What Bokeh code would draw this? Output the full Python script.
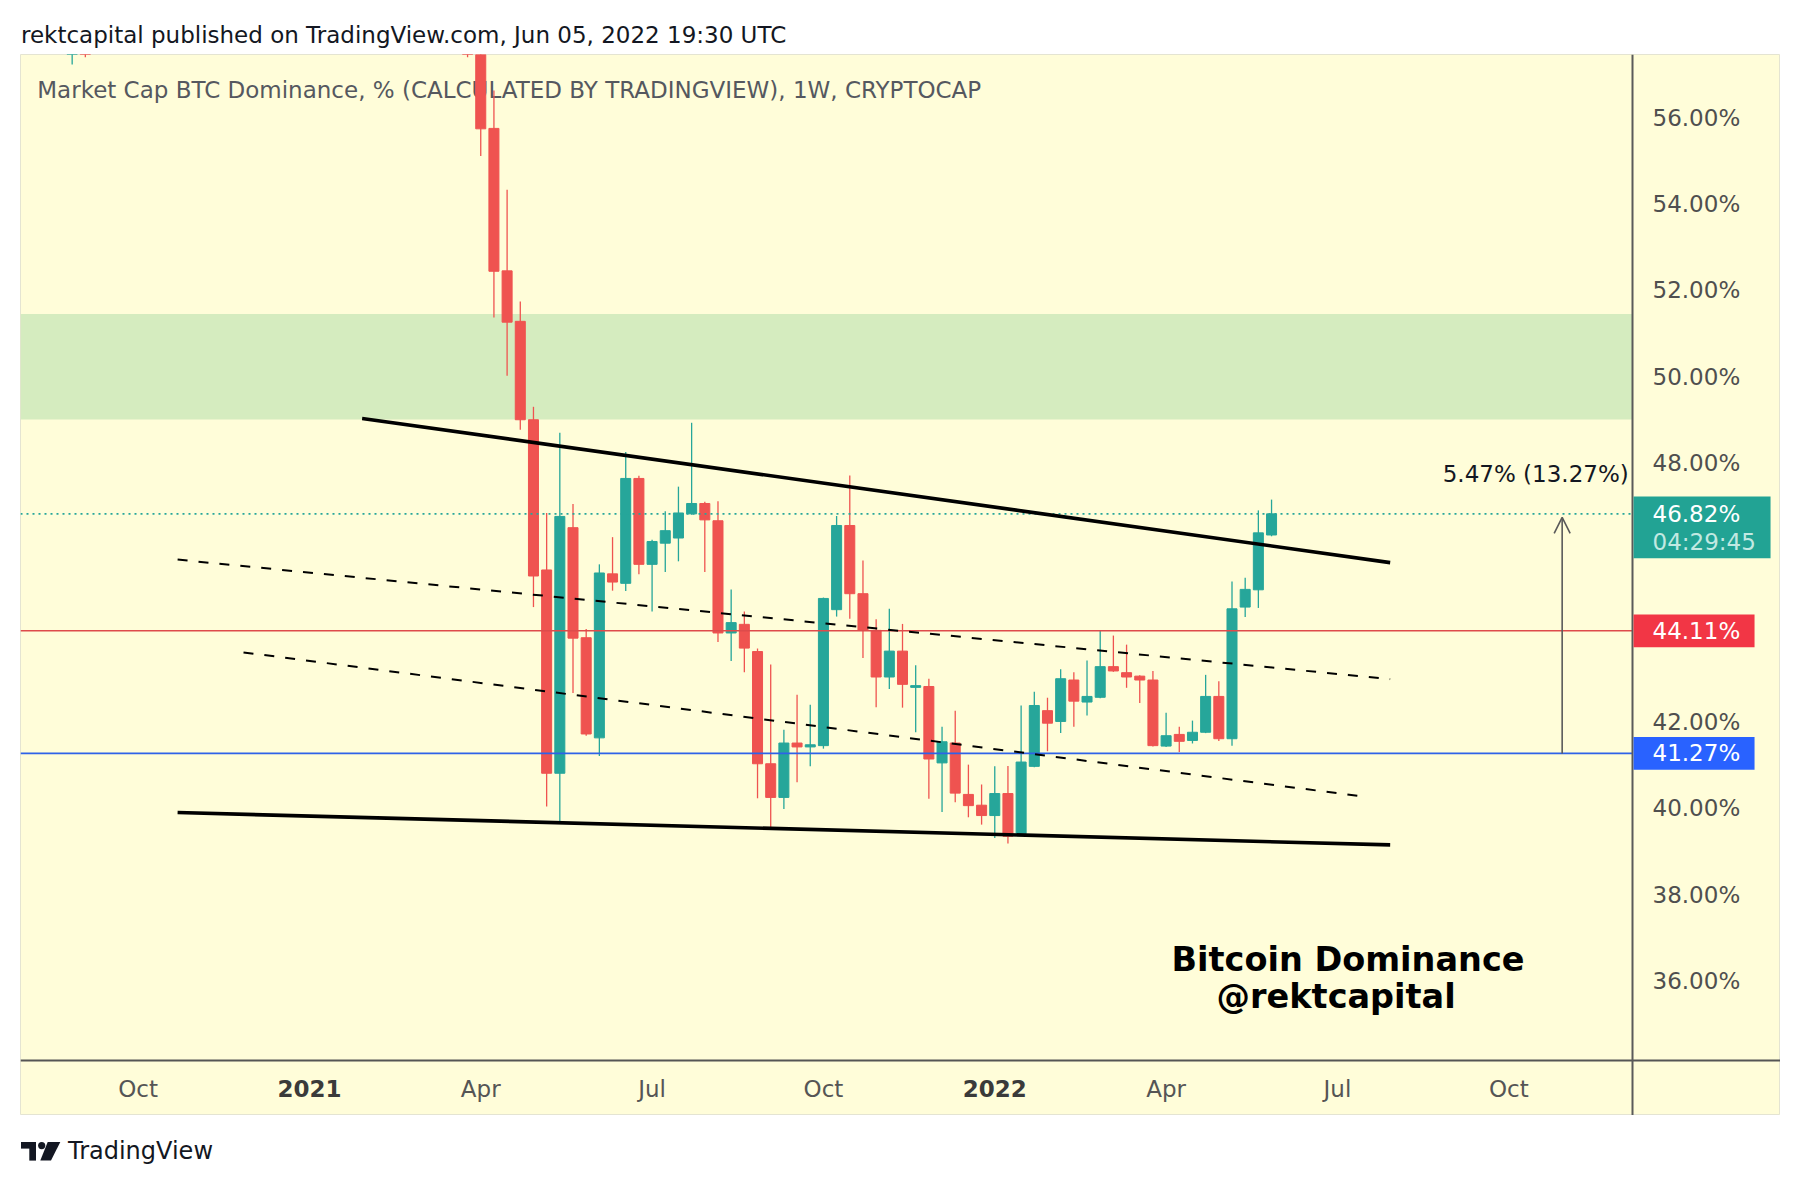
from datetime import datetime, timedelta
from bokeh.plotting import figure
from bokeh.models import FixedTicker, Range1d, Arrow, OpenHead, Div, LinearAxis, Spacer
from bokeh.layouts import column, row
from bokeh.core.properties import value
from bokeh.embed import file_html
from bokeh.resources import INLINE

# ---------------- data (weekly candles, BTC dominance %) ----------------
weeks = ["2020-08-31", "2020-09-07", "2021-03-29",
         "2021-04-05", "2021-04-12", "2021-04-19", "2021-04-26", "2021-05-03", "2021-05-10",
         "2021-05-17", "2021-05-24", "2021-05-31", "2021-06-07", "2021-06-14", "2021-06-21",
         "2021-06-28", "2021-07-05", "2021-07-12", "2021-07-19", "2021-07-26", "2021-08-02",
         "2021-08-09", "2021-08-16", "2021-08-23", "2021-08-30", "2021-09-06", "2021-09-13",
         "2021-09-20", "2021-09-27", "2021-10-04", "2021-10-11", "2021-10-18", "2021-10-25",
         "2021-11-01", "2021-11-08", "2021-11-15", "2021-11-22", "2021-11-29", "2021-12-06",
         "2021-12-13", "2021-12-20", "2021-12-27", "2022-01-03", "2022-01-10", "2022-01-17",
         "2022-01-24", "2022-01-31", "2022-02-07", "2022-02-14", "2022-02-21", "2022-02-28",
         "2022-03-07", "2022-03-14", "2022-03-21", "2022-03-28", "2022-04-04", "2022-04-11",
         "2022-04-18", "2022-04-25", "2022-05-02", "2022-05-09", "2022-05-16", "2022-05-23",
         "2022-05-30"]
opens = [57.90, 58.80, 59.60,
         58.30, 55.75, 52.45, 51.28, 49.00, 45.52, 40.81, 46.50, 43.95, 41.63, 45.43, 45.21,
         47.64, 45.65, 46.14, 46.26, 46.82, 47.06, 46.66, 44.06, 44.26, 43.63, 41.03, 40.25,
         41.51, 41.42, 41.45, 44.60, 46.55, 44.97, 44.12, 43.04, 43.64, 42.80, 42.82, 41.05,
         41.51, 40.32, 40.07, 39.83, 40.34, 39.41, 40.97, 42.26, 42.01, 42.97, 42.46, 42.57,
         43.28, 43.14, 43.06, 42.97, 41.44, 41.71, 41.57, 41.76, 42.59, 41.61, 44.66, 45.06,
         46.33]
highs = [59.20, 59.30, 60.20,
         58.60, 56.63, 54.33, 51.74, 49.30, 46.84, 48.70, 47.05, 44.15, 45.65, 46.28, 48.25,
         47.70, 46.22, 46.88, 47.45, 48.93, 47.10, 47.11, 45.07, 44.56, 43.70, 43.33, 41.82,
         42.63, 42.40, 44.88, 46.77, 47.71, 45.74, 44.38, 44.62, 44.27, 43.31, 43.00, 41.89,
         42.26, 41.01, 40.55, 40.97, 40.98, 42.38, 42.70, 42.56, 43.22, 43.15, 43.42, 44.12,
         44.00, 43.79, 43.08, 43.18, 42.21, 41.89, 42.03, 43.09, 42.94, 45.25, 45.34, 46.90,
         47.15]
lows = [57.23, 57.40, 57.40,
        55.11, 51.37, 50.02, 48.77, 44.66, 40.04, 39.68, 42.67, 41.68, 41.21, 45.04, 45.03,
        45.42, 44.56, 45.47, 45.72, 46.80, 45.47, 43.85, 43.41, 43.15, 40.23, 39.56, 39.98,
        40.60, 40.97, 41.38, 44.44, 44.39, 43.48, 42.34, 42.76, 42.33, 41.76, 40.22, 39.91,
        40.14, 39.79, 39.62, 39.31, 39.18, 39.38, 40.95, 41.32, 41.74, 41.89, 42.15, 42.55,
        43.16, 42.79, 42.44, 41.43, 41.42, 41.30, 41.50, 41.74, 41.56, 41.45, 44.43, 44.64,
        46.30]
closes = [58.80, 57.90, 58.30,
          55.74, 52.44, 51.26, 49.00, 45.38, 40.81, 46.76, 43.94, 41.72, 45.45, 45.24, 47.64,
          45.65, 46.18, 46.43, 46.84, 47.06, 46.68, 44.06, 44.30, 43.71, 41.03, 40.25, 41.51,
          41.42, 41.47, 44.86, 46.55, 44.97, 44.12, 43.04, 43.64, 42.87, 42.84, 41.14, 41.54,
          40.35, 40.06, 39.83, 40.34, 39.35, 41.07, 42.38, 41.97, 43.00, 42.48, 42.59, 43.28,
          43.18, 43.04, 42.97, 41.45, 41.68, 41.55, 41.76, 42.59, 41.61, 44.62, 45.07, 46.38,
          46.82]

# horizontal levels and zone
resistance_level = 44.11
support_level = 41.27
last_price = 46.82
countdown = "04:29:45"
zone_low, zone_high = 49.005, 51.45

# measured move
move_abs, move_pct = 5.47, 13.27

# trend lines (date, value) pairs
upper_line_dates = ["2021-02-01", "2022-08-01"]
upper_line_vals = [49.03, 45.69]
lower_line_dates = ["2020-10-26", "2022-08-01"]
lower_line_vals = [39.90, 39.15]
dash1_dates = ["2020-10-26", "2022-08-01"]
dash1_vals = [45.76, 42.99]
dash2_dates = ["2020-11-30", "2022-07-18"]
dash2_vals = [43.61, 40.27]

# axis ticks
price_ticks = [36, 38, 40, 42, 44, 46, 48, 50, 52, 54, 56]
month_tick_dates = ["2020-10-05", "2021-01-04", "2021-04-05", "2021-07-05", "2021-10-04",
                    "2022-01-03", "2022-04-04", "2022-07-04", "2022-10-03"]
month_tick_labels = ["Oct", "2021", "Apr", "Jul", "Oct", "2022", "Apr", "Jul", "Oct"]
year_labels = {"2021", "2022"}

# ---------------- helpers ----------------
EPOCH = datetime(1970, 1, 1)
BASE = datetime(2021, 1, 4)
WEEK_MS = 7 * 86400000.0
PX_PER_WEEK = 13.18
PXW = WEEK_MS / PX_PER_WEEK     # ms per screen pixel
PXY = 1 / 43.16                 # % per screen pixel


def ms_of(s):
    return (datetime.strptime(s, "%Y-%m-%d") - EPOCH).total_seconds() * 1000.0


def wk(k):
    return (BASE + timedelta(weeks=k) - EPOCH).total_seconds() * 1000.0


BG = "#FFFDD9"
TEAL = "#26A69A"
RED = "#EF5350"
FONT = "DejaVu Sans"
FS = "23px"

XL = wk(-21.92)                         # left edge of the chart card
XA = wk(100.39)                         # price-axis line
XR = wk(-21.92 + 1760 / PX_PER_WEEK)    # right edge of the card
YB, YT = 32.881, 57.462

p = figure(frame_width=1760, frame_height=1061,
           x_range=Range1d(XL, XR), y_range=Range1d(YB, YT),
           x_axis_location=None, y_axis_location=None,
           toolbar_location=None, output_backend="svg", title=None,
           min_border_left=0, min_border_top=0, min_border_bottom=0, min_border_right=0,
           background_fill_color=BG, border_fill_color=BG,
           outline_line_color="#E4E4D2")
p.grid.visible = False

ax = LinearAxis(fixed_location=XA)
ax.ticker = FixedTicker(ticks=price_ticks)
ax.major_label_overrides = {t: f"{t:.2f}%" for t in price_ticks}
ax.axis_line_color = "#5A5A5A"
ax.axis_line_width = 2
ax.major_tick_line_color = None
ax.minor_tick_line_color = None
ax.major_tick_out = 0
ax.major_tick_in = 0
ax.major_label_standoff = 20
ax.major_label_text_font = FONT
ax.major_label_text_font_size = FS
ax.major_label_text_color = "#4F4F4F"
p.add_layout(ax, "right")

# green zone
p.quad(left=[XL], right=[XA], bottom=[zone_low], top=[zone_high], fill_color="#D5ECBF", line_color=None)

# series title
p.text(x=[wk(-20.65)], y=[56.651],
       text=["Market Cap BTC Dominance, % (CALCULATED BY TRADINGVIEW), 1W, CRYPTOCAP"],
       text_font=value(FONT), text_font_size=FS, text_color="#55585F",
       text_baseline="middle", text_align="left")

# x-axis strip: separator and month labels
p.hspan(y=[34.165], line_color="#555555", line_width=2)
mx = [ms_of(d) for d in month_tick_dates]
month_only = [i for i, t in enumerate(month_tick_labels) if t not in year_labels]
year_only = [i for i, t in enumerate(month_tick_labels) if t in year_labels]
p.text(x=[mx[i] for i in month_only], y=[33.505] * len(month_only),
       text=[month_tick_labels[i] for i in month_only],
       text_font=value(FONT), text_font_size=FS, text_color="#555555",
       text_baseline="middle", text_align="center")
p.text(x=[mx[i] for i in year_only], y=[33.505] * len(year_only),
       text=[month_tick_labels[i] for i in year_only],
       text_font=value(FONT), text_font_size=FS, text_color="#3A3A3A",
       text_font_style="bold", text_baseline="middle", text_align="center")

# candles
cx = [ms_of(d) for d in weeks]
cols = [TEAL if c >= o else RED for o, c in zip(opens, closes)]
tops = [max(o, c) for o, c in zip(opens, closes)]
bots = [min(o, c) for o, c in zip(opens, closes)]
p.segment(x0=cx, y0=lows, x1=cx, y1=highs, line_color=cols, line_width=1.3)
p.vbar(x=cx, width=0.76 * WEEK_MS, top=tops, bottom=bots, fill_color=cols, line_color=cols, line_width=1)

# horizontal levels (end at the price axis)
p.segment(x0=[XL], x1=[XA], y0=[resistance_level], y1=[resistance_level], line_color="#DE4B4B", line_width=1.6)
p.segment(x0=[XL], x1=[XA], y0=[support_level], y1=[support_level], line_color="#2E62E8", line_width=1.8)
p.segment(x0=[XL], x1=[XA], y0=[last_price], y1=[last_price], line_color=TEAL, line_width=1.6, line_dash="2 4")

# trend lines
p.line(x=[ms_of(d) for d in upper_line_dates], y=upper_line_vals, line_color="black", line_width=3.6)
p.line(x=[ms_of(d) for d in lower_line_dates], y=lower_line_vals, line_color="black", line_width=3.6)
p.line(x=[ms_of(d) for d in dash1_dates], y=dash1_vals, line_color="black", line_width=2, line_dash="10 11")
p.line(x=[ms_of(d) for d in dash2_dates], y=dash2_vals, line_color="black", line_width=2, line_dash="10 11")

# measurement arrow and text
ax_x = wk(95.05)
p.add_layout(Arrow(end=OpenHead(size=16, line_color="#5A5A5A", line_width=1.6),
                   x_start=ax_x, y_start=support_level, x_end=ax_x, y_end=support_level + move_abs,
                   line_color="#5A5A5A", line_width=1.6))
p.text(x=[wk(100.1)], y=[47.75], text=[f"{move_abs:.2f}% ({move_pct:.2f}%)"], text_font=value(FONT),
       text_font_size=FS, text_color="#131722", text_baseline="middle", text_align="right")

# watermark text
p.text(x=[wk(78.8)], y=[36.49], text=["Bitcoin Dominance"], text_font=value(FONT),
       text_font_size="33.5px", text_font_style="bold", text_color="#000000",
       text_baseline="middle", text_align="center")
p.text(x=[wk(77.9)], y=[35.64], text=["@rektcapital"], text_font=value(FONT),
       text_font_size="33.5px", text_font_style="bold", text_color="#000000",
       text_baseline="middle", text_align="center")

# price boxes on the axis (drawn above the axis labels)
box_vals = [last_price, resistance_level, support_level]
box_colors = ["#22A394", "#F23645", "#2962FF"]
box_w_px = [138, 122, 122]
box_up_px = [17.3, 16.4, 16.4]
box_dn_px = [44.4, 16.4, 16.4]
p.quad(left=[XA + 1 * PXW] * 3, right=[XA + w * PXW for w in box_w_px],
       top=[v + u * PXY for v, u in zip(box_vals, box_up_px)],
       bottom=[v - d * PXY for v, d in zip(box_vals, box_dn_px)],
       fill_color=box_colors, line_color=None, level="overlay")
p.text(x=[XA + 20 * PXW] * 3, y=box_vals, text=[f"{v:.2f}%" for v in box_vals],
       text_font=value(FONT), text_font_size=FS, text_color="white",
       text_baseline="middle", text_align="left", level="overlay")
p.text(x=[XA + 20 * PXW], y=[last_price - 28 * PXY], text=[countdown],
       text_font=value(FONT), text_font_size=FS, text_color="#C2E9E2",
       text_baseline="middle", text_align="left", level="overlay")

# header and footer
header = Div(text=("<div style=\"font-family:'DejaVu Sans';font-size:23px;color:#131722;"
                   "padding-top:17px;line-height:26px;white-space:nowrap;\">"
                   "rektcapital published on TradingView.com, Jun 05, 2022 19:30 UTC</div>"),
             width=1760, height=44)
logo = ("<svg width='40' height='19' viewBox='0 0 40 19'>"
        "<rect x='0' y='0' width='15' height='6.6' fill='#131722'/>"
        "<rect x='8.3' y='0' width='6.7' height='18.6' fill='#131722'/>"
        "<circle cx='20.7' cy='3.6' r='3.6' fill='#131722'/>"
        "<polygon points='26.7,0 39.3,0 30,18.6 19.3,18.6' fill='#131722'/></svg>")
footer = Div(text=("<div style=\"display:flex;align-items:center;height:30px;margin-top:16px;"
                   "font-family:'DejaVu Sans';font-size:24px;color:#131722;\">"
                   + logo + "<span style='margin-left:7px;'>TradingView</span></div>"),
             width=1760, height=60)

layout = column(row(Spacer(width=16, height=44), header),
                row(Spacer(width=20, height=1061), p),
                row(Spacer(width=16, height=60), footer))
open("out.html", "w").write(file_html(layout, INLINE))
